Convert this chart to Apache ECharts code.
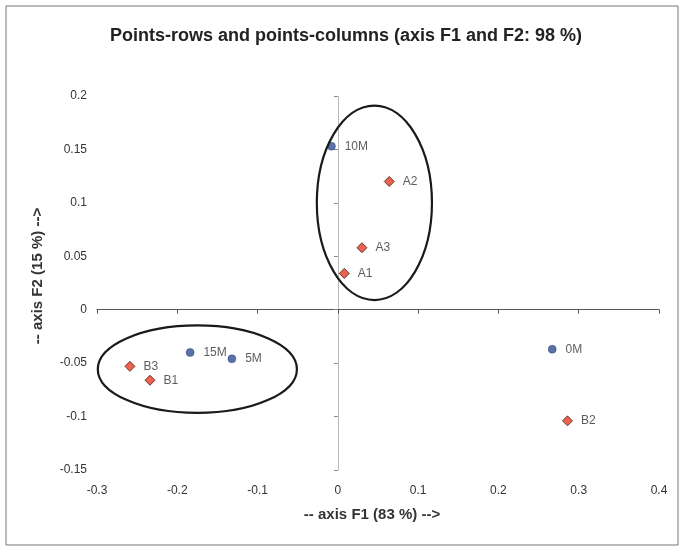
<!DOCTYPE html>
<html>
<head>
<meta charset="utf-8">
<script src="https://cdn.jsdelivr.net/npm/echarts@6/dist/echarts.min.js"></script>
<style>
html,body{margin:0;padding:0;background:#fff;}
#chart{width:681px;height:549px;}
</style>
</head>
<body>
<div id="chart"></div>
<script>
// ---- data ----
const colNames = ['0M', '5M', '10M', '15M'];
const colF1 = [0.267, -0.132, -0.008, -0.184];
const colF2 = [-0.037, -0.046, 0.153, -0.040];

const rowNames = ['A1', 'A2', 'A3', 'B1', 'B2', 'B3'];
const rowF1 = [0.008, 0.064, 0.030, -0.234, 0.286, -0.259];
const rowF2 = [0.034, 0.120, 0.058, -0.066, -0.104, -0.053];

const xTickLabels = ['-0.3', '-0.2', '-0.1', '0', '0.1', '0.2', '0.3', '0.4'];
const yTickLabels = ['-0.15', '-0.1', '-0.05', '0', '0.05', '0.1', '0.15', '0.2'];

// group ellipses (data units): centre F1, centre F2, half-width F1, half-height F2
const ellipseCx = [0.0455, -0.175];
const ellipseCy = [0.100, -0.0556];
const ellipseRx = [0.0717, 0.124];
const ellipseRy = [0.091, 0.041];

const X_MIN = -0.3, X_MAX = 0.4, X_INT = 0.1;
const Y_MIN = -0.15, Y_MAX = 0.2, Y_INT = 0.05;

function xLabel(v) { const i = Math.round((v - X_MIN) / X_INT); return xTickLabels[i] ?? ''; }
function yLabel(v) { const i = Math.round((v - Y_MIN) / Y_INT); return yTickLabels[i] ?? ''; }

const FONT = 'Liberation Sans, Arial, sans-serif';

const chart = echarts.init(document.getElementById('chart'), null, {renderer: 'canvas'});

const option = {
  backgroundColor: '#ffffff',
  animation: false,
  title: {
    text: 'Points-rows and points-columns (axis F1 and F2: 98 %)',
    left: 105, top: 22,
    textStyle: {fontFamily: FONT, fontSize: 18, fontWeight: 'bold', color: '#222'}
  },
  grid: {left: 97, right: 22, top: 96, bottom: 79, containLabel: false},
  xAxis: [
    {
      type: 'value', min: X_MIN, max: X_MAX, interval: X_INT, position: 'bottom',
      axisLine: {show: false, onZero: false}, axisTick: {show: false}, splitLine: {show: false},
      axisLabel: {formatter: xLabel, color: '#333', fontFamily: FONT, fontSize: 12, margin: 15},
      name: '-- axis F1 (83 %) -->', nameLocation: 'middle', nameGap: 37,
      nameTextStyle: {fontFamily: FONT, fontSize: 15, fontWeight: 'bold', color: '#333', padding: [0, 0, 0, -12]}
    },
    {
      type: 'value', min: X_MIN, max: X_MAX, interval: X_INT, position: 'bottom',
      axisLine: {show: true, onZero: true, lineStyle: {color: '#555', width: 1}},
      axisTick: {show: true, inside: false, length: 4, lineStyle: {color: '#555'}},
      axisLabel: {show: false}, splitLine: {show: false}
    }
  ],
  yAxis: [
    {
      type: 'value', min: Y_MIN, max: Y_MAX, interval: Y_INT, position: 'left',
      axisLine: {show: false, onZero: false}, axisTick: {show: false}, splitLine: {show: false},
      axisLabel: {formatter: yLabel, color: '#333', fontFamily: FONT, fontSize: 12, margin: 10},
      name: '-- axis F2 (15 %) -->', nameLocation: 'middle', nameGap: 52, nameRotate: 90,
      nameTextStyle: {fontFamily: FONT, fontSize: 15, fontWeight: 'bold', color: '#333', padding: [0, 0, 0, 14]}
    },
    {
      type: 'value', min: Y_MIN, max: Y_MAX, interval: Y_INT, position: 'left',
      axisLine: {show: true, onZero: true, lineStyle: {color: '#aaa', width: 1, type: 'dotted'}},
      axisTick: {show: true, inside: false, length: 4, lineStyle: {color: '#888'}},
      axisLabel: {show: false}, splitLine: {show: false}
    }
  ],
  series: [
    {
      name: 'columns', type: 'scatter', xAxisIndex: 0, yAxisIndex: 0,
      symbol: 'circle', symbolSize: 8,
      itemStyle: {color: '#2f4f92', borderColor: '#1f3466', borderWidth: 0.5},
      label: {show: true, position: 'right', distance: 9, formatter: p => p.data[2],
              color: '#333', fontFamily: FONT, fontSize: 12},
      data: colNames.map((n, i) => [colF1[i], colF2[i], n]),
      z: 5
    },
    {
      name: 'rows', type: 'scatter', xAxisIndex: 0, yAxisIndex: 0,
      symbol: 'diamond', symbolSize: 10,
      itemStyle: {color: '#e63b26', borderColor: '#4a1a12', borderWidth: 1},
      label: {show: true, position: 'right', distance: 8, formatter: p => p.data[2],
              color: '#333', fontFamily: FONT, fontSize: 12},
      data: rowNames.map((n, i) => [rowF1[i], rowF2[i], n]),
      z: 5
    }
  ]
};

chart.setOption(option);

function drawExtras() {
  const els = [];
  // outer frame
  els.push({type: 'rect', shape: {x: 6, y: 6, width: 672, height: 539},
            style: {fill: null, stroke: '#777', lineWidth: 1}, silent: true, z: 0});
  for (let i = 0; i < ellipseCx.length; i++) {
    const c = chart.convertToPixel({xAxisIndex: 0, yAxisIndex: 0}, [ellipseCx[i], ellipseCy[i]]);
    const e = chart.convertToPixel({xAxisIndex: 0, yAxisIndex: 0}, [ellipseCx[i] + ellipseRx[i], ellipseCy[i] + ellipseRy[i]]);
    els.push({
      type: 'ellipse',
      shape: {cx: c[0], cy: c[1], rx: Math.abs(e[0] - c[0]), ry: Math.abs(e[1] - c[1])},
      style: {fill: null, stroke: '#1a1a1a', lineWidth: 2.2},
      silent: true, z: 10
    });
  }
  chart.setOption({graphic: {elements: els}});
}
drawExtras();
</script>
</body>
</html>
